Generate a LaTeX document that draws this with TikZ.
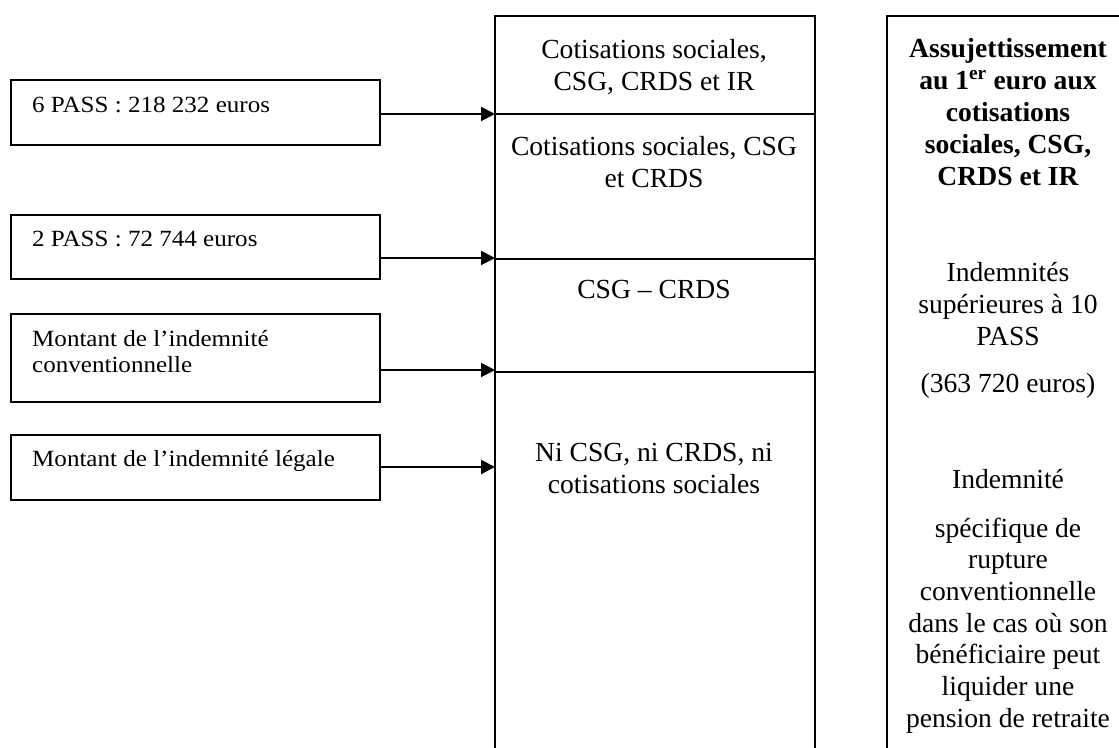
\documentclass[tikz,border=0pt]{standalone}
\usepackage{fontspec}
\setmainfont{Liberation Serif}
\newfontfamily\leftfont[FakeStretch=1.08]{Liberation Serif}
\usetikzlibrary{arrows.meta}
\tikzset{
  lbox/.style={draw, line width=2pt, minimum width=369pt, inner sep=0pt, anchor=north west},
  cell/.style={draw, line width=2.2pt, minimum width=320pt, inner sep=0pt, anchor=north west},
  ltxt/.style={anchor=base west, inner sep=0pt, font=\leftfont\fontsize{23.2}{27}\selectfont},
  mtxt/.style={anchor=base, inner sep=0pt, font=\fontsize{27.6}{32}\selectfont},
  btxt/.style={mtxt, font=\fontsize{27.6}{32}\selectfont\bfseries},
  arr/.style={line width=2pt, -{Triangle[length=14pt,width=14pt]}}
}
\begin{document}
\begin{tikzpicture}[x=1pt,y=-1pt]
\useasboundingbox (0,0) rectangle (1119,747);
\clip (0,0) rectangle (1119,747);
% left boxes
\node[lbox, minimum height=65pt] (b1) at (10,79) {};
\node[lbox, minimum height=64pt] (b2) at (10,214) {};
\node[lbox, minimum height=88pt] (b3) at (10,313) {};
\node[lbox, minimum height=65pt] (b4) at (10,434) {};
\node[ltxt] (t1) at (32,112) {6 PASS : 218 232 euros};
\node[ltxt] (t2) at (32,246) {2 PASS : 72 744 euros};
\node[ltxt] (t3a) at (32,346) {Montant de l’indemnité};
\node[ltxt] (t3b) at (32,372) {conventionnelle};
\node[ltxt] (t4) at (32,466) {Montant de l’indemnité légale};
% middle column
\node[cell, minimum height=98pt] (m1) at (494,15) {};
\node[cell, minimum height=145pt] (m2) at (494,113) {};
\node[cell, minimum height=113pt] (m3) at (494,258) {};
\node[cell, minimum height=400pt] (m4) at (494,371) {};
% right column
\node[cell, minimum width=260pt, minimum height=760pt] (r) at (886,15) {};
% arrow targets
\coordinate (a1) at (495,114);
\coordinate (a2) at (495,258);
\coordinate (a3) at (495,370);
\coordinate (a4) at (495,467);
\draw[arr] (b1.east |- a1) -- (a1);
\draw[arr] (b2.east |- a2) -- (a2);
\draw[arr] (b3.east |- a3) -- (a3);
\draw[arr] (b4.east |- a4) -- (a4);
% middle texts
\node[mtxt] (c1a) at (654,58) {Cotisations sociales,};
\node[mtxt] (c1b) at (654,90) {CSG, CRDS et IR};
\node[mtxt] (c2a) at (654,155) {Cotisations sociales, CSG};
\node[mtxt] (c2b) at (654,187) {et CRDS};
\node[mtxt] (c3) at (654,298) {CSG – CRDS};
\node[mtxt] (c4a) at (654,461) {Ni CSG, ni CRDS, ni};
\node[mtxt] (c4b) at (654,493) {cotisations sociales};
% right texts
\node[btxt] (r1) at (1008,57) {Assujettissement};
\node[btxt] (r2) at (1008,89) {au 1\textsuperscript{er} euro aux};
\node[btxt] (r3) at (1008,121) {cotisations};
\node[btxt] (r4) at (1008,153) {sociales, CSG,};
\node[btxt] (r5) at (1008,185) {CRDS et IR};
\node[mtxt] (r6) at (1008,281) {Indemnités};
\node[mtxt] (r7) at (1008,313) {supérieures à 10};
\node[mtxt] (r8) at (1008,345) {PASS};
\node[mtxt] (r9) at (1008,392) {(363 720 euros)};
\node[mtxt] (r10) at (1008,488) {Indemnité};
\node[mtxt] (r11) at (1008,537) {spécifique de};
\node[mtxt] (r12) at (1008,568) {rupture};
\node[mtxt] (r13) at (1008,600) {conventionnelle};
\node[mtxt] (r14) at (1008,632) {dans le cas où son};
\node[mtxt] (r15) at (1008,663) {bénéficiaire peut};
\node[mtxt] (r16) at (1008,695) {liquider une};
\node[mtxt] (r17) at (1008,727) {pension de retraite};
\end{tikzpicture}
\end{document}
